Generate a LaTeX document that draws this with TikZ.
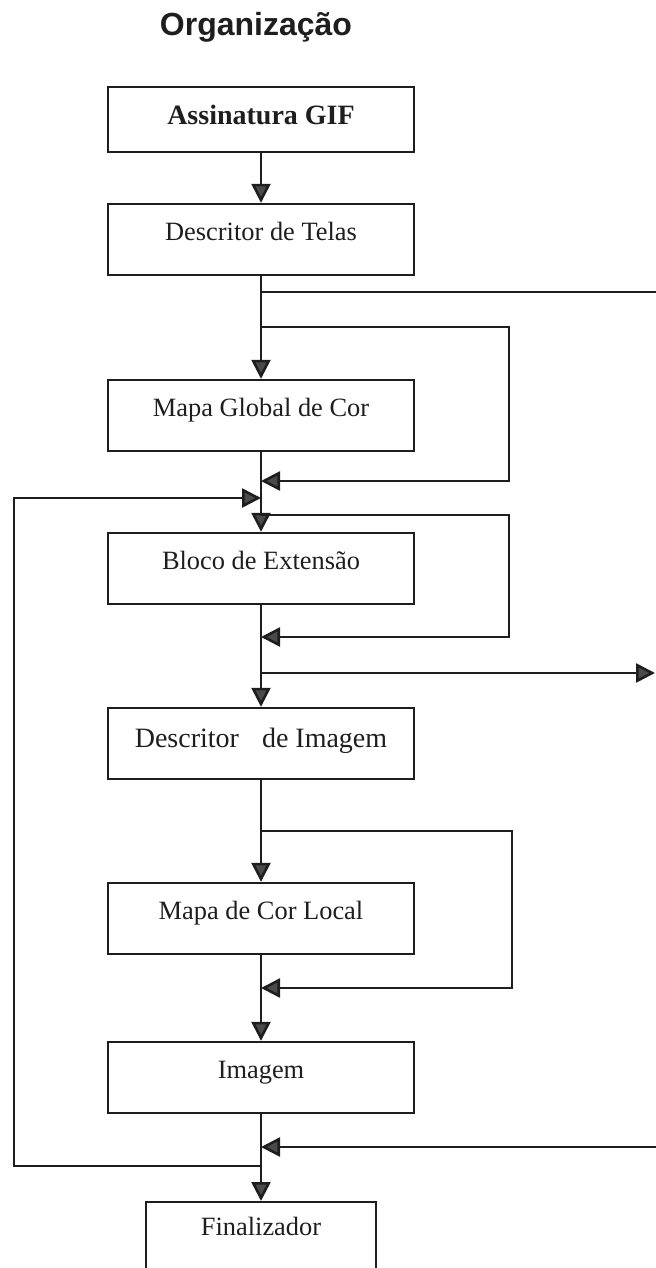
\documentclass[tikz,border=0pt]{standalone}
\usepackage{fontspec}
\setmainfont{Liberation Serif}
\newfontfamily\titlefont{Liberation Sans}
\usetikzlibrary{arrows.meta}
\definecolor{ink}{HTML}{1E1E1E}
\definecolor{tipfill}{HTML}{4A4A4A}
\begin{document}
\begin{tikzpicture}[x=0.5pt,y=-0.5pt,
  line width=1.3pt, draw=ink,
  stage/.style={draw=ink, line width=1.2pt, rectangle, inner sep=0pt,
    minimum width=153pt, minimum height=35.5pt,
    text height=8.5pt, text depth=7.5pt,
    font=\fontsize{13.2}{15}\selectfont, text=ink},
  flow/.style={draw=ink, line width=1.3pt,
    -{Triangle[length=9.5pt,width=9.5pt,fill=tipfill]}},
  wire/.style={draw=ink, line width=1.3pt}]
\useasboundingbox (0,0) rectangle (656,1268);

% title
\node[anchor=base, font=\titlefont\bfseries\fontsize{16}{19}\selectfont, text=ink]
  (title) at (256,36) {Organização};

% stages of the file layout
\node[stage, minimum height=32.5pt, text height=11.5pt, text depth=6pt,
  font=\bfseries\fontsize{14}{16}\selectfont] (sig) at (261,119.5) {Assinatura GIF};
\node[stage] (telas) at (261,239.5) {Descritor de Telas};
\node[stage] (gmap)  at (261,415.5) {Mapa Global de Cor};
\node[stage] (ext)   at (261,568.5) {Bloco de Extensão};
\node[stage, text height=10.5pt, text depth=7pt,
  font=\fontsize{14}{16}\selectfont] (idesc) at (261,743.5) {Descritor\hspace{8pt} de Imagem};
\node[stage] (lmap)  at (261,918.5) {Mapa de Cor Local};
\node[stage] (img)   at (261,1077.5) {Imagem};
\node[stage, anchor=north, minimum width=115pt, minimum height=0pt,
  text height=16.5pt, text depth=40pt] (fin) at (261,1201) {Finalizador};

% junction and corner points
\coordinate (j1)  at (261,292);
\coordinate (e1)  at (664,292);
\coordinate (j2)  at (261,327);
\coordinate (c2a) at (509,327);
\coordinate (c2b) at (509,481);
\coordinate (m2)  at (261,481);
\coordinate (m3)  at (261,498);
\coordinate (c3a) at (14,498);
\coordinate (c3b) at (14,1166);
\coordinate (j3)  at (261,1166);
\coordinate (j4)  at (261,515);
\coordinate (c4a) at (509,515);
\coordinate (c4b) at (509,637);
\coordinate (m4)  at (261,637);
\coordinate (j5)  at (261,673);
\coordinate (e5)  at (655,673);
\coordinate (j6)  at (261,831);
\coordinate (c6a) at (512,831);
\coordinate (c6b) at (512,988);
\coordinate (m6)  at (261,988);
\coordinate (e7)  at (664,1147);
\coordinate (m7)  at (261,1147);

% main chain
\draw[flow] (sig) -- (telas);
\draw[flow] (telas) -- (gmap);
\draw[flow] (gmap) -- (ext);
\draw[flow] (ext) -- (idesc);
\draw[flow] (idesc) -- (lmap);
\draw[flow] (lmap) -- (img);
\draw[flow] (img) -- (fin);

% branches and loops
\draw[wire] (j1) -- (e1);
\draw[flow] (j2) -- (c2a) -- (c2b) -- (m2);
\draw[flow] (j3) -- (c3b) -- (c3a) -- (m3);
\draw[flow] (j4) -- (c4a) -- (c4b) -- (m4);
\draw[flow] (j5) -- (e5);
\draw[flow] (j6) -- (c6a) -- (c6b) -- (m6);
\draw[flow] (e7) -- (m7);
\end{tikzpicture}
\end{document}
